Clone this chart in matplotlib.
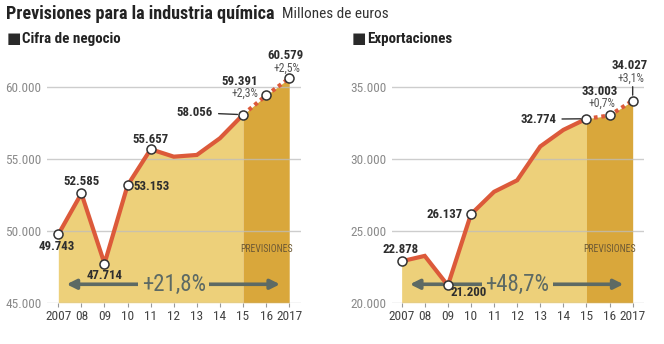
import matplotlib
matplotlib.use("Agg")
import matplotlib.pyplot as plt
from matplotlib import font_manager as fm

# pick a condensed family that also has a real bold face
cands = ['Roboto Condensed', 'Archivo Narrow', 'Barlow Semi Condensed',
         'Asap Condensed', 'Liberation Sans Narrow', 'Encode Sans Condensed',
         'Barlow Condensed']
weights = {}
for f in fm.fontManager.ttflist:
    try:
        weights.setdefault(f.name, set()).add(int(f.weight))
    except (TypeError, ValueError):
        pass
FONT = next((n for n in cands if n in weights and max(weights[n]) >= 700
             and min(weights[n]) <= 400), 'DejaVu Sans')
plt.rcParams['font.family'] = [FONT, 'DejaVu Sans']

# data (millones de euros)
years = [2007, 2008, 2009, 2010, 2011, 2012, 2013, 2014, 2015, 2016, 2017]
year_labels = ["2007", "08", "09", "10", "11", "12", "13", "14", "15", "16", "2017"]
negocio = [49743, 52585, 47714, 53153, 55657, 55140, 55260, 56420, 58056, 59391, 60579]
export = [22878, 23250, 21200, 26137, 27700, 28500, 30850, 32000, 32774, 33003, 34027]
neg_ticks = [45000, 50000, 55000, 60000]
exp_ticks = [20000, 25000, 30000, 35000]
neg_growth = "+21,8%"
exp_growth = "+48,7%"
neg_pct = {2016: "+2,3%", 2017: "+2,5%"}
exp_pct = {2016: "+0,7%", 2017: "+3,1%"}

LIGHT = "#EDD07A"
DARK = "#D9A73B"
RED = "#DC5A3A"
GRID = "#bdbdbd"
ARROW = "#5d6a64"
TXT = "#2e2e2e"

W, H = 664, 344
fig = plt.figure(figsize=(W / 100, H / 100), dpi=100)


def fmt(v):
    return f"{v:,}".replace(",", ".")


def make_panel(rect, xlim, ylim, vals, ticks, growth):
    ax = fig.add_axes([rect[0] / W, rect[1] / H, rect[2] / W, rect[3] / H])
    ax.set_xlim(*xlim)
    ax.set_ylim(*ylim)
    for s in ax.spines.values():
        s.set_visible(False)
    ax.set_facecolor("none")
    # fill under the line
    ax.fill_between(years[:9], vals[:9], ylim[0], color=LIGHT, lw=0, zorder=1)
    ax.fill_between(years[8:], vals[8:], ylim[0], color=DARK, lw=0, zorder=1)
    for t in ticks:
        ax.axhline(t, color=GRID, lw=1, alpha=0.75, zorder=2)
    ax.set_yticks(ticks)
    ax.set_yticklabels([fmt(t) for t in ticks], color="#8a8a8a", fontsize=9.5)
    ax.set_xticks(years)
    ax.set_xticklabels(year_labels, color="#444444", fontsize=9.6)
    ax.tick_params(axis="y", length=0, pad=4)
    ax.tick_params(axis="x", length=3, color="#999999", pad=2)
    # line: real data solid, forecast dotted
    ax.plot(years[:9], vals[:9], color=RED, lw=3, solid_capstyle="round",
            solid_joinstyle="miter", zorder=4)
    ax.plot(years[8:], vals[8:], color=RED, lw=3, ls=(0, (0.9, 0.9)),
            dash_capstyle="butt", zorder=4)
    ax.text(2016, ylim[0] + (ylim[1] - ylim[0]) * 0.225, "PREVISIONES",
            ha="center", va="center", fontsize=7, color="#6e5a35", zorder=3)
    # growth arrow
    ya = ylim[0] + 1280
    ax.annotate("", xy=(2007.36, ya), xytext=(2016.6, ya),
                arrowprops=dict(arrowstyle="<|-|>", color=ARROW, lw=2.6,
                                mutation_scale=14, shrinkA=0, shrinkB=0),
                zorder=3)
    ax.text(2012, ya, growth, ha="center", va="center", fontsize=16.5,
            color=ARROW, zorder=3,
            bbox=dict(boxstyle="square,pad=0.15", fc=LIGHT, ec="none"))
    return ax


def point(ax, yr, v):
    ax.plot([yr], [v], "o", ms=6.5, mfc="white", mec="#333333", mew=1.1,
            zorder=6)


def label(ax, yr, v, dx, dy, ha="center", txt=None, bold=True, size=9.3,
          color=TXT, line=False):
    ap = None
    if line:
        ap = dict(arrowstyle="-", color="#333333", lw=1, shrinkA=2, shrinkB=4)
    ax.annotate(txt if txt else fmt(v), xy=(yr, v), xytext=(dx, dy),
                textcoords="offset pixels", ha=ha, va="center",
                fontsize=size, fontweight="bold" if bold else "normal",
                color=color, arrowprops=ap, zorder=5)


# left panel: cifra de negocio
axl = make_panel((47, 41.3, 254, 240.5), (2006.51, 2017.51), (45000, 61700),
                 negocio, neg_ticks, neg_growth)
for i in [0, 1, 2, 3, 4, 8, 9, 10]:
    point(axl, years[i], negocio[i])
label(axl, 2007, negocio[0], -2, -12)
label(axl, 2008, negocio[1], 0, 12)
label(axl, 2009, negocio[2], 0, -12)
label(axl, 2010, negocio[3], 6, -1.5, ha="left")
label(axl, 2011, negocio[4], 0, 10)
label(axl, 2015, negocio[8], -30, 2, ha="right", line=True)
label(axl, 2016, negocio[9], -8, 14, ha="right")
label(axl, 2016, negocio[9], -8, 2.5, ha="right", txt=neg_pct[2016],
      bold=False, size=8.5, color="#555555")
label(axl, 2017, negocio[10], -4, 22.5)
label(axl, 2017, negocio[10], -2, 10, txt=neg_pct[2017], bold=False,
      size=8.5, color="#555555")

# right panel: exportaciones
axr = make_panel((391.7, 41.3, 252.3, 240.5), (2006.57, 2017.49), (20000, 36700),
                 export, exp_ticks, exp_growth)
for i in [0, 2, 3, 8, 9, 10]:
    point(axr, years[i], export[i])
label(axr, 2007, export[0], -1.5, 12)
label(axr, 2009, export[2], 2.5, -7, ha="left")
label(axr, 2010, export[3], -8, -0.5, ha="right")
label(axr, 2015, export[8], -30, -0.5, ha="right", line=True)
label(axr, 2016, export[9], -10, 23.5)
label(axr, 2016, export[9], -8, 12, txt=exp_pct[2016], bold=False,
      size=8.5, color="#555555")
label(axr, 2017, export[10], -3.5, 35)
label(axr, 2017, export[10], -1.5, 22.5, txt=exp_pct[2017], bold=False,
      size=8.5, color="#555555")
axr.annotate("", xy=(2017, export[10]), xytext=(0, 14),
             textcoords="offset pixels",
             arrowprops=dict(arrowstyle="-", color="#333333", lw=1,
                             shrinkA=0, shrinkB=4), zorder=5)

# header
fig.text(6 / W, 1 - 14 / H, "Previsiones para la industria química",
         fontsize=13.1, fontweight="bold", color="#222222", va="center")
fig.text(282 / W, 1 - 14.5 / H, "Millones de euros", fontsize=11,
         color="#333333", va="center")
for x0, name in [(6.5, "Cifra de negocio"), (352, "Exportaciones")]:
    fig.text(x0 / W, 1 - 38.5 / H, "\u25a0", fontsize=11, color="#2a2a2a",
             va="center", family=["DejaVu Sans"])
    fig.text((x0 + 15) / W, 1 - 38.5 / H, name, fontsize=10.8,
             fontweight="bold", color="#222222", va="center")

fig.savefig("out.png", dpi=100)
